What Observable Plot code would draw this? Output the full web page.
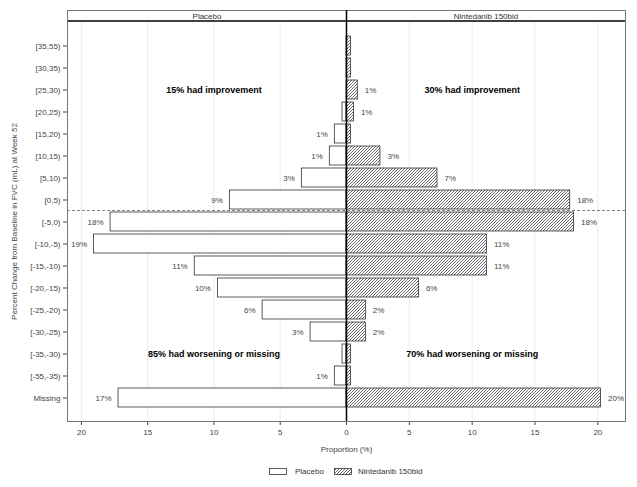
<!DOCTYPE html>
<html>
<head>
<meta charset="utf-8">
<script src="https://cdn.jsdelivr.net/npm/d3@7"></script>
<script src="https://cdn.jsdelivr.net/npm/@observablehq/plot@0.6"></script>
<style>
  html, body { margin: 0; padding: 0; background: #fff; }
  #wrap { position: relative; width: 637px; height: 487px; font-family: "Liberation Sans", Arial, sans-serif; }
  #legend { position: absolute; top: 467px; left: 269px; display: flex; align-items: center; font-size: 8px; color: #333; white-space: nowrap; }
  #legend svg { display: block; }
</style>
</head>
<body>
<div id="wrap"></div>
<script>
// ---- data ----
const categories = ["[35,55)", "[30,35)", "[25,30)", "[20,25)", "[15,20)", "[10,15)", "[5,10)", "[0,5)",
  "[-5,0)", "[-10,-5)", "[-15,-10)", "[-20,-15)", "[-25,-20)", "[-30,-25)", "[-35,-30)", "[-55,-35)", "Missing"];
const placeboValues = [0, 0, 0, 0.3, 0.88, 1.26, 3.37, 8.8, 17.8, 19.05, 11.45, 9.7, 6.33, 2.71, 0.3, 0.88, 17.2];
const placeboLabels = ["", "", "", "", "1%", "1%", "3%", "9%", "18%", "19%", "11%", "10%", "6%", "3%", "", "1%", "17%"];
const ninValues = [0.35, 0.35, 0.9, 0.59, 0.35, 2.7, 7.24, 17.8, 18.1, 11.17, 11.17, 5.76, 1.54, 1.54, 0.35, 0.35, 20.25];
const ninLabels = ["", "", "1%", "1%", "", "3%", "7%", "18%", "18%", "11%", "11%", "6%", "2%", "2%", "", "", "20%"];
const xTicks = [-20, -15, -10, -5, 0, 5, 10, 15, 20];
const panelNames = ["Placebo", "Nintedanib 150bid"];
const annotations = [
  {x: -10, y: "[25,30)", text: "15% had improvement"},
  {x: 10, y: "[25,30)", text: "30% had improvement"},
  {x: -10, y: "[-35,-30)", text: "85% had worsening or missing"},
  {x: 10, y: "[-35,-30)", text: "70% had worsening or missing"}
];
const dividerAfter = "[0,5)";   // dashed line between improvement and worsening
const yLabel = "Percent Change from Baseline in FVC (mL) at Week 52";
const xLabel = "Proportion (%)";

// ---- tables ----
const placebo = categories.map((c, i) => ({cat: c, v: -placeboValues[i], label: placeboLabels[i]}));
const nin = categories.map((c, i) => ({cat: c, v: ninValues[i], label: ninLabels[i]}));
const xDomain = [-21.05, 0, 22.2];
const panels = [
  {name: panelNames[0], x: (xDomain[0] + xDomain[1]) / 2},
  {name: panelNames[1], x: (xDomain[1] + xDomain[2]) / 2}
];

const W = 637, H = 458, mL = 67, mR = 12, mT = 21, mB = 37, strip = 11;
const font = "'Liberation Sans', Arial, sans-serif";

const divider = (index, scales, values, dims) => {
  const y = scales.y;
  const bw = y.bandwidth ? y.bandwidth() : 0;
  const ci = categories.indexOf(dividerAfter);
  const yy = (y(categories[ci]) + bw + y(categories[ci + 1])) / 2;
  const g = d3.create("svg:g");
  g.append("line")
    .attr("x1", dims.marginLeft).attr("x2", dims.width - dims.marginRight)
    .attr("y1", yy).attr("y2", yy)
    .attr("stroke", "#666").attr("stroke-dasharray", "3,2").attr("stroke-width", 0.8);
  g.append("line")
    .attr("x1", dims.marginLeft).attr("x2", dims.width - dims.marginRight)
    .attr("y1", dims.marginTop).attr("y2", dims.marginTop)
    .attr("stroke", "#000").attr("stroke-width", 1.3);
  return g.node();
};

const chart = Plot.plot({
  width: W, height: H,
  marginLeft: mL, marginRight: mR, marginTop: mT, marginBottom: mB,
  style: {fontFamily: font, fontSize: "8px", background: "white", overflow: "visible"},
  x: {type: "linear", domain: xDomain, range: [mL, 346, W - mR]},
  y: {type: "band", domain: categories, paddingInner: 0.155, paddingOuter: 0.33},
  marks: [
    Plot.gridX(xTicks.filter(d => d !== 0), {stroke: "#ececec", strokeOpacity: 1}),
    Plot.axisX({ticks: xTicks, tickFormat: d => Math.abs(d), tickSize: 4, tickPadding: 4, fontSize: 8, color: "#444",
      label: xLabel, labelAnchor: "center", labelArrow: "none", labelOffset: 30}),
    Plot.axisY({tickSize: 4, tickPadding: 3, fontSize: 8, color: "#444",
      label: yLabel, labelAnchor: "center", labelArrow: "none", labelOffset: 56}),
    Plot.barX(placebo, {y: "cat", x1: 0, x2: "v", fill: "white", stroke: "#333", strokeWidth: 0.8}),
    Plot.barX(nin, {y: "cat", x1: 0, x2: "v", fill: "url(#hatch)", stroke: "#333", strokeWidth: 0.8}),
    Plot.text(placebo, {y: "cat", x: "v", text: "label", textAnchor: "end", dx: -7, fill: "#444", fontSize: 8}),
    Plot.text(nin, {y: "cat", x: "v", text: "label", textAnchor: "start", dx: 7, fill: "#444", fontSize: 8}),
    Plot.text(annotations, {x: "x", y: "y", text: "text", fill: "#000", fontSize: 9, fontWeight: "bold"}),
    divider,
    Plot.frame({stroke: "#777", insetTop: -strip}),
    Plot.ruleX([0], {stroke: "#000", strokeWidth: 1.5, insetTop: -strip}),
    Plot.text(panels, {x: "x", text: "name", frameAnchor: "top", lineAnchor: "middle", dy: -strip / 2, fill: "#333", fontSize: 8})
  ]
});

// hatch pattern
const defs = d3.select(chart).insert("defs", ":first-child");
const pat = defs.append("pattern").attr("id", "hatch").attr("patternUnits", "userSpaceOnUse")
  .attr("width", 3).attr("height", 3);
pat.append("rect").attr("width", 3).attr("height", 3).attr("fill", "white");
pat.append("path").attr("d", "M0,3 L3,0 M-1,1 L1,-1 M2,4 L4,2").attr("stroke", "#444").attr("stroke-width", 0.8);

const wrap = document.getElementById("wrap");
wrap.appendChild(chart);

// legend
const legend = document.createElement("div");
legend.id = "legend";
legend.innerHTML = `
  <svg width="18" height="7"><rect x="0.5" y="0.5" width="17" height="6" fill="white" stroke="#333" stroke-width="0.8"/></svg>
  <span style="margin-left:8px">${panelNames[0]}</span>
  <svg width="18" height="7" style="margin-left:10px"><defs><pattern id="hatch2" patternUnits="userSpaceOnUse" width="3" height="3"><rect width="3" height="3" fill="white"/><path d="M0,3 L3,0 M-1,1 L1,-1 M2,4 L4,2" stroke="#444" stroke-width="0.8"/></pattern></defs><rect x="0.5" y="0.5" width="17" height="6" fill="url(#hatch2)" stroke="#333" stroke-width="0.8"/></svg>
  <span style="margin-left:6px">${panelNames[1]}</span>`;
wrap.appendChild(legend);
</script>
</body>
</html>
